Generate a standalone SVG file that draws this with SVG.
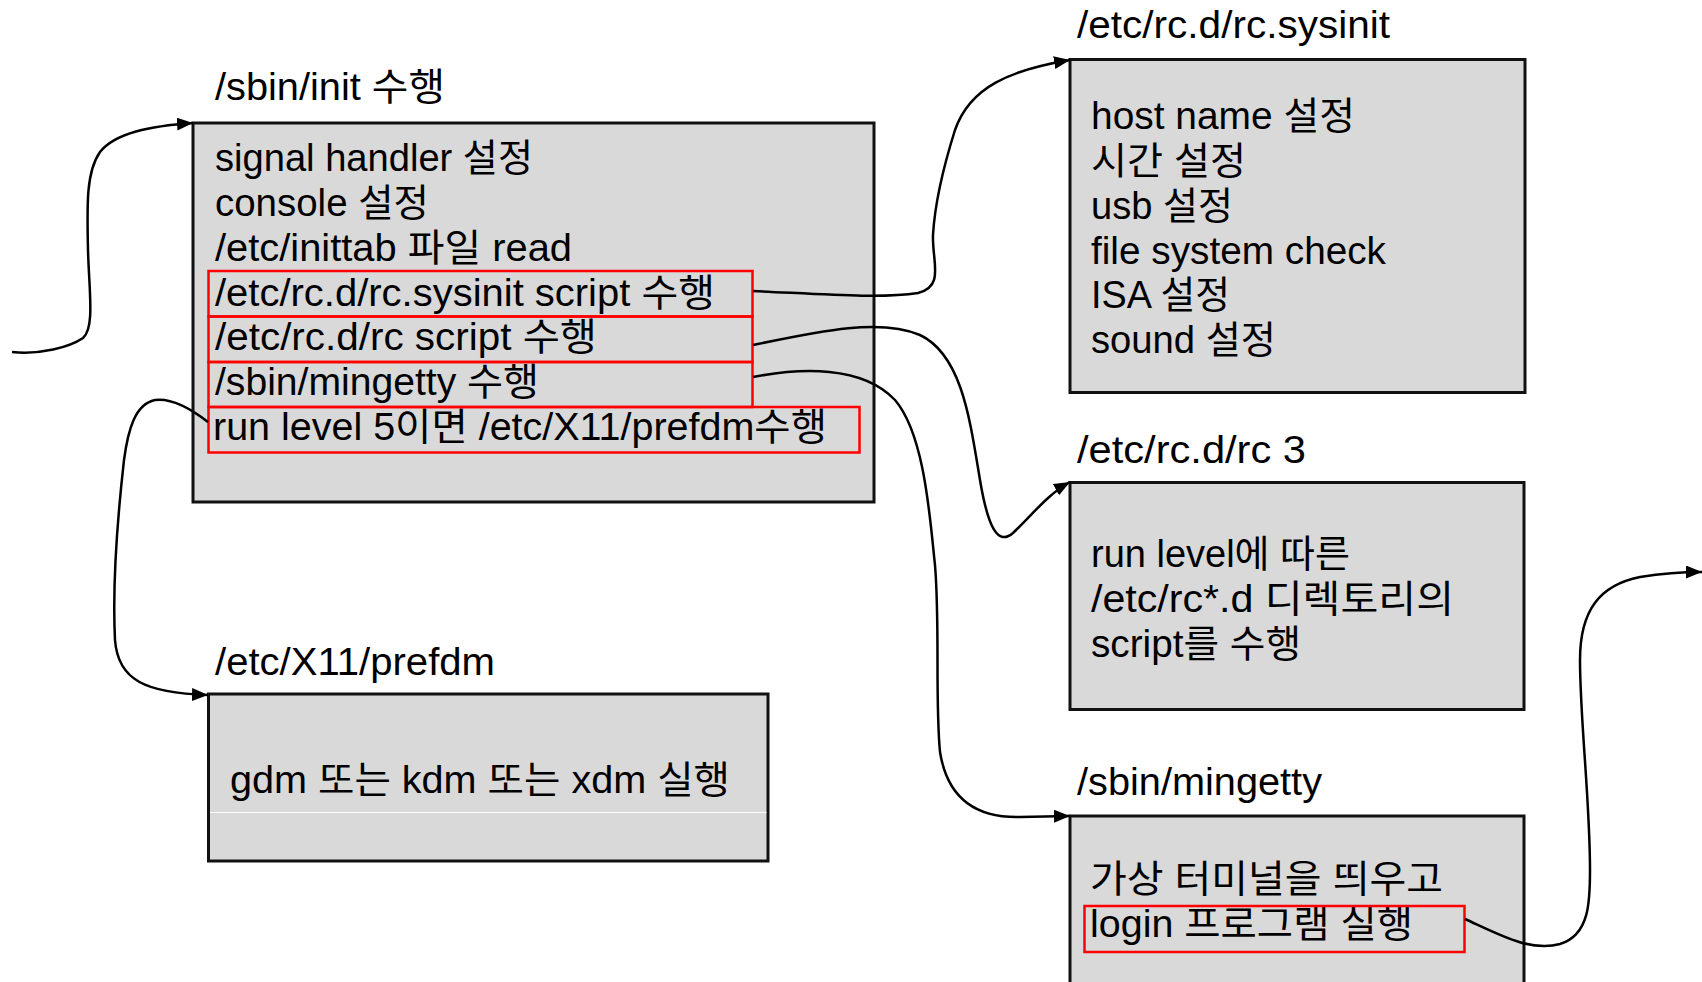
<svg xmlns="http://www.w3.org/2000/svg" width="1702" height="982" viewBox="0 0 1702 982">
  <style>
    text { font-family: "Liberation Sans", "Noto Sans CJK KR", sans-serif; font-size: 38px; fill: #000; }
    .box { fill: #d9d9d9; stroke: #111; stroke-width: 3; }
    .hl { fill: none; stroke: #ff0000; stroke-width: 2.5; }
    .link { fill: none; stroke: #000; stroke-width: 2.5; marker-end: url(#arrow); }
  </style>
  <defs>
    <marker id="arrow" markerUnits="userSpaceOnUse" markerWidth="17" markerHeight="14" refX="16" refY="6.5" orient="auto">
      <path d="M0,0 L16,6.5 L0,13 z" fill="#000"/>
    </marker>
  </defs>
  <rect width="1702" height="982" fill="#fff"/>

  <!-- /sbin/init -->
  <g id="init">
    <text x="215" y="100" textLength="230" lengthAdjust="spacingAndGlyphs">/sbin/init 수행</text>
    <rect class="box" x="193" y="123" width="681" height="379"/>
    <text x="215" y="171" textLength="318" lengthAdjust="spacingAndGlyphs">signal handler 설정</text>
    <text x="215" y="216" textLength="214" lengthAdjust="spacingAndGlyphs">console 설정</text>
    <text x="215" y="261" textLength="357" lengthAdjust="spacingAndGlyphs">/etc/inittab 파일 read</text>
    <text x="215" y="306" textLength="500" lengthAdjust="spacingAndGlyphs">/etc/rc.d/rc.sysinit script 수행</text>
    <text x="215" y="350" textLength="382" lengthAdjust="spacingAndGlyphs">/etc/rc.d/rc script 수행</text>
    <text x="215" y="395" textLength="324" lengthAdjust="spacingAndGlyphs">/sbin/mingetty 수행</text>
    <text x="213" y="440" textLength="614" lengthAdjust="spacingAndGlyphs">run level 5이면 /etc/X11/prefdm수행</text>
    <rect class="hl" x="208.5" y="271" width="544" height="45.5"/>
    <rect class="hl" x="208.5" y="316.5" width="544" height="45.5"/>
    <rect class="hl" x="208.5" y="362" width="544" height="45"/>
    <rect class="hl" x="208.5" y="407" width="651" height="45.5"/>
  </g>

  <!-- /etc/rc.d/rc.sysinit -->
  <g id="sysinit">
    <text x="1077" y="38" textLength="313" lengthAdjust="spacingAndGlyphs">/etc/rc.d/rc.sysinit</text>
    <rect class="box" x="1070" y="59.5" width="455" height="333"/>
    <text x="1091" y="129" textLength="264" lengthAdjust="spacingAndGlyphs">host name 설정</text>
    <text x="1091" y="174" textLength="155" lengthAdjust="spacingAndGlyphs">시간 설정</text>
    <text x="1091" y="219" textLength="142" lengthAdjust="spacingAndGlyphs">usb 설정</text>
    <text x="1091" y="264" textLength="295" lengthAdjust="spacingAndGlyphs">file system  check</text>
    <text x="1091" y="308" textLength="139" lengthAdjust="spacingAndGlyphs">ISA 설정</text>
    <text x="1091" y="353" textLength="185" lengthAdjust="spacingAndGlyphs">sound 설정</text>
  </g>

  <!-- /etc/rc.d/rc 3 -->
  <g id="rc3">
    <text x="1077" y="463" textLength="229" lengthAdjust="spacingAndGlyphs">/etc/rc.d/rc 3</text>
    <rect class="box" x="1070" y="482.5" width="454" height="227"/>
    <text x="1091" y="567" textLength="259" lengthAdjust="spacingAndGlyphs">run level에 따른</text>
    <text x="1091" y="612" textLength="363" lengthAdjust="spacingAndGlyphs">/etc/rc*.d 디렉토리의</text>
    <text x="1091" y="657" textLength="210" lengthAdjust="spacingAndGlyphs">script를 수행</text>
  </g>

  <!-- /etc/X11/prefdm -->
  <g id="prefdm">
    <text x="215" y="675" textLength="280" lengthAdjust="spacingAndGlyphs">/etc/X11/prefdm</text>
    <rect class="box" x="208.5" y="694" width="559.5" height="167"/>
    <text x="230" y="793" textLength="500" lengthAdjust="spacingAndGlyphs">gdm 또는 kdm 또는 xdm 실행</text>
    <line x1="210" y1="812.5" x2="766.5" y2="812.5" stroke="#fff" stroke-width="1"/>
  </g>

  <!-- /sbin/mingetty -->
  <g id="mingetty">
    <text x="1077" y="795" textLength="245" lengthAdjust="spacingAndGlyphs">/sbin/mingetty</text>
    <rect class="box" x="1070" y="816" width="454" height="200"/>
    <text x="1090" y="892" textLength="353" lengthAdjust="spacingAndGlyphs">가상 터미널을 띄우고</text>
    <text x="1090" y="937" textLength="323" lengthAdjust="spacingAndGlyphs">login 프로그램 실행</text>
    <rect class="hl" x="1084.5" y="906" width="380" height="46"/>
  </g>

  <!-- connectors -->
  <g id="connectors">
    <path class="link" d="M12,352 C40,355 70,347 83,338 C95,328 89,290 88,250 C87,205 86,172 100,152 C115,133 150,126 193,123"/>
    <path class="link" d="M753,291 C820,294 880,299 918,293 C945,286 932,262 933,235 C935,200 944,165 955,130 C970,87 1010,70 1070,60"/>
    <path class="link" d="M753,345 C820,331 880,318 920,335 C962,355 970,420 980,480 C988,528 998,546 1013,533 C1032,515 1048,494 1070,482"/>
    <path class="link" d="M753,377 C800,368 862,365 895,400 C925,435 930,520 935,565 C940,625 935,700 940,752 C948,802 980,818 1020,817 L1070,816"/>
    <path class="link" d="M208,422 C190,408 170,398 155,400 C135,404 128,430 124,460 C115,540 113,600 115,640 C118,680 145,693 208,695"/>
    <path class="link" d="M1465,919 C1500,935 1530,952 1560,944 C1590,935 1590,900 1590,870 C1590,800 1580,720 1580,660 C1580,610 1600,585 1640,577 C1665,573 1685,572 1702,572"/>
  </g>
</svg>
